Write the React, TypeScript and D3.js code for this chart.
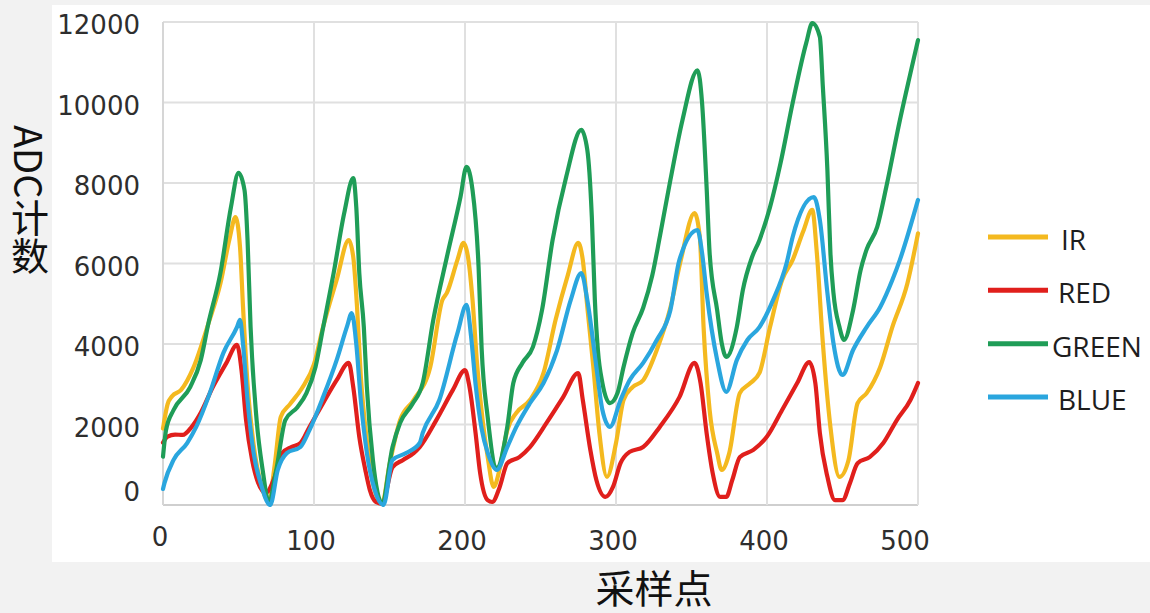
import { useEffect, useRef } from 'react';
import * as d3 from 'd3';

const X_TICKS = [0, 100, 200, 300, 400, 500];
const Y_TICKS = [0, 2000, 4000, 6000, 8000, 10000, 12000];
const LEGEND_NAMES = ['IR', 'RED', 'GREEN', 'BLUE'];
const LINE_COLORS = ['#f4b91f', '#e01f1c', '#1f9d57', '#2aa6de'];

// [sample index, ADC count]
const IR: [number, number][] = [
  [0, 1900], [3, 2500], [6, 2700], [12, 2860], [20, 3400], [30, 4500], [38, 5500], [44, 6600], [48, 7150],
  [51, 6410], [53, 4920], [56, 3000], [60, 1500], [65, 500], [70, 100], [74, 1000], [78, 2190], [84, 2500],
  [92, 2900], [100, 3500], [106, 4420], [115, 5590], [123, 6580], [126, 6160], [128.5, 4920], [131, 3200],
  [135, 1600], [140, 400], [145, 30], [150, 1000], [157, 2110], [166, 2610], [177, 3430], [185, 5090],
  [188, 5270], [195, 6090], [199, 6510], [202, 6160], [205, 5090], [208, 3500], [212, 2000], [215, 1200],
  [219, 450], [223, 900], [228, 1860], [234, 2290], [243, 2610], [252, 3280], [260, 4600], [268, 5700],
  [275, 6510], [278, 6090], [281, 4920], [285, 3430], [289, 1790], [294, 700], [300, 1540], [305, 2610],
  [311, 2930], [318, 3100], [327, 3850], [336, 4900], [343, 6100], [352, 7250], [355.5, 6660], [358, 4420],
  [362, 2360], [367, 1290], [370, 870], [375, 1290], [382, 2780], [389, 3030], [395, 3280], [402, 4420],
  [410, 5590], [417, 6090], [424, 6800], [430, 7330], [433, 6260], [437, 4020], [442, 1940], [448, 700],
  [454, 1120], [460, 2530], [466, 2780], [475, 3430], [483, 4420], [493, 5510], [500, 6750],
];

const RED: [number, number][] = [
  [0, 1550], [3, 1700], [8, 1750], [13, 1740], [19, 1940], [25, 2290], [33, 2930], [42, 3530], [49, 3980],
  [52, 3350], [55, 2110], [59, 1120], [63, 550], [68, 300], [74, 700], [79, 1290], [85, 1440], [91, 1540],
  [97, 1940], [106, 2530], [115, 3100], [123, 3530], [126, 2930], [130, 1690], [134, 870], [137, 370],
  [141, 75], [145, 30], [152, 940], [159, 1120], [166, 1290], [170, 1440], [181, 2110], [192, 2860],
  [200, 3350], [203, 2930], [207, 1790], [210, 800], [215, 120], [218, 75], [223, 450], [228, 1040],
  [236, 1190], [243, 1440], [254, 2040], [265, 2680], [275, 3280], [278, 2610], [283, 1370], [287, 620],
  [293, 200], [298, 450], [303, 1040], [309, 1320], [318, 1440], [329, 1940], [342, 2680], [352, 3530],
  [356, 3030], [360, 1790], [364, 800], [369, 200], [373, 200], [377, 620], [382, 1190], [391, 1370],
  [400, 1700], [410, 2360], [420, 3030], [428, 3550], [432, 3030], [435, 1790], [440, 700], [445, 120],
  [450, 120], [455, 550], [460, 1040], [468, 1190], [477, 1540], [486, 2110], [495, 2610], [500, 3030],
];

const GREEN: [number, number][] = [
  [0, 1200], [2, 1860], [7, 2360], [18, 2930], [25, 3600], [30, 4500], [38, 5760], [45, 7400], [50, 8250],
  [54, 7820], [56, 6580], [58, 4420], [62, 2110], [66, 870], [70, 80], [75, 870], [81, 2110], [89, 2430],
  [95, 2780], [101, 3430], [106, 4400], [113, 5760], [120, 7250], [126, 8120], [128, 7400], [130, 5760],
  [133, 4420], [135, 2930], [139, 1120], [145, 50], [152, 1440], [157, 2040], [165, 2500], [172, 3030],
  [179, 4600], [188, 6160], [197, 7650], [201, 8400], [205, 7820], [209, 5910], [211, 3900], [215, 2190],
  [221, 920], [228, 1940], [232, 3030], [238, 3530], [245, 3930], [251, 4840], [258, 6580], [267, 8150],
  [277, 9320], [281, 8820], [284, 7150], [286, 5090], [288, 3850], [291, 3030], [296, 2530], [301, 2780],
  [305, 3430], [311, 4270], [318, 4900], [324, 5700], [329, 6660], [336, 8070], [344, 9560], [354, 10800],
  [357, 9990], [360, 7900], [362, 6260], [367, 4840], [370, 4020], [373, 3680], [380, 4420], [384, 5340],
  [390, 6150], [395, 6580], [402, 7400], [409, 8500], [417, 9990], [426, 11480], [430, 11970], [435, 11630],
  [437, 10380], [440, 8320], [442, 6260], [444, 5270], [448, 4420], [451, 4100], [457, 4840], [462, 5840],
  [466, 6350], [473, 6910], [479, 7900], [488, 9560], [495, 10730], [500, 11550],
];

const BLUE: [number, number][] = [
  [0, 400], [1, 550], [7, 1120], [16, 1540], [22, 1940], [31, 2780], [40, 3780], [49, 4420], [51, 4600],
  [53, 4000], [56, 2600], [60, 1300], [65, 500], [71, 0], [76, 870], [82, 1290], [91, 1440], [97, 1860],
  [106, 2680], [115, 3600], [122, 4450], [125, 4770], [128, 4000], [131, 2600], [135, 1300], [140, 400],
  [146, 0], [152, 1120], [161, 1290], [170, 1540], [172, 1790], [183, 2610], [195, 4270], [201, 4970],
  [204, 4200], [207, 3000], [211, 1900], [215, 1300], [221, 870], [228, 1440], [234, 1940], [243, 2530],
  [252, 3030], [261, 3850], [270, 5090], [277, 5760], [281, 5090], [287, 3430], [291, 2360], [296, 1940],
  [303, 2610], [309, 3100], [318, 3530], [327, 4100], [336, 4840], [342, 6090], [354, 6830], [357, 6260],
  [360, 5270], [367, 3600], [373, 2810], [380, 3600], [387, 4100], [395, 4420], [404, 5090], [413, 6010],
  [417, 6660], [431, 7650], [435, 7080], [440, 5270], [444, 4020], [450, 3230], [457, 3850], [466, 4420],
  [475, 4920], [483, 5590], [488, 6090], [500, 7580],
];

const SERIES_DATA = [IR, RED, GREEN, BLUE];

export default function App() {
  const svgRef = useRef<SVGSVGElement>(null);

  useEffect(() => {
    if (!svgRef.current) return;
    const width = 1150;
    const height = 613;
    const margin = { top: 22, left: 163 };
    const innerWidth = 755;
    const innerHeight = 483;

    const svg = d3.select(svgRef.current);
    svg.selectAll('*').remove();

    // page background + white panel
    svg.append('rect').attr('width', width).attr('height', height).attr('fill', '#f2f2f2');
    svg.append('rect').attr('x', 52).attr('y', 5).attr('width', width - 52).attr('height', 557).attr('fill', '#ffffff');

    const x = d3.scaleLinear().domain([0, 500]).range([0, innerWidth]);
    const y = d3.scaleLinear().domain([0, 12000]).range([innerHeight, 0]);

    const g = svg.append('g').attr('transform', `translate(${margin.left},${margin.top})`);

    g.append('defs').append('clipPath').attr('id', 'plot-clip')
      .append('rect').attr('x', -4).attr('y', -4).attr('width', innerWidth + 8).attr('height', innerHeight + 6);

    // grid
    g.append('g')
      .selectAll('line').data(Y_TICKS).join('line')
      .attr('x1', 0).attr('x2', innerWidth)
      .attr('y1', d => y(d)).attr('y2', d => y(d))
      .attr('stroke', d => d === 0 ? '#cfcfcf' : '#e0e0e0').attr('stroke-width', 2);
    g.append('g')
      .selectAll('line').data(X_TICKS).join('line')
      .attr('y1', 0).attr('y2', innerHeight)
      .attr('x1', d => x(d)).attr('x2', d => x(d))
      .attr('stroke', d => d === 0 ? '#d6d6d6' : '#e0e0e0').attr('stroke-width', 2);

    const tickFont = '"DejaVu Sans", sans-serif';

    g.append('g')
      .selectAll('text').data(Y_TICKS).join('text')
      .attr('x', -23)
      .attr('y', d => d === 0 ? y(d) - 13 : y(d) + 3)
      .attr('text-anchor', 'end').attr('dominant-baseline', 'central')
      .attr('font-family', tickFont).attr('font-size', 26).attr('fill', '#2e2e2e')
      .text(d => String(d));

    g.append('g')
      .selectAll('text').data(X_TICKS).join('text')
      .attr('x', d => d === 500 ? x(d) - 13 : x(d) - 3)
      .attr('y', d => d === 0 ? innerHeight + 32 : innerHeight + 36)
      .attr('text-anchor', 'middle').attr('dominant-baseline', 'central')
      .attr('font-family', tickFont).attr('font-size', 26).attr('fill', '#2e2e2e')
      .text(d => String(d));

    const line = d3.line<[number, number]>()
      .x(d => x(d[0]))
      .y(d => y(d[1]))
      .curve(d3.curveMonotoneX);

    const lines = g.append('g').attr('clip-path', 'url(#plot-clip)');
    SERIES_DATA.forEach((data, i) => {
      lines.append('path')
        .datum(data)
        .attr('d', line)
        .attr('fill', 'none')
        .attr('stroke', LINE_COLORS[i])
        .attr('stroke-width', 4.2)
        .attr('stroke-linejoin', 'round')
        .attr('stroke-linecap', 'round');
    });

    // legend
    const legendY = d3.scalePoint<string>().domain(LEGEND_NAMES).range([237, 397]);
    const legend = svg.append('g');
    LEGEND_NAMES.forEach((name, i) => {
      legend.append('line')
        .attr('x1', 988).attr('x2', 1048)
        .attr('y1', legendY(name)!).attr('y2', legendY(name)!)
        .attr('stroke', LINE_COLORS[i]).attr('stroke-width', 5);
      legend.append('text')
        .attr('x', name === 'GREEN' ? 1052 : name === 'IR' ? 1061 : 1058)
        .attr('y', legendY(name)! + 2)
        .attr('dominant-baseline', 'central')
        .attr('font-family', '"Open Sans", sans-serif').attr('font-size', 28).attr('fill', '#1e1e1e')
        .text(name);
    });

    // axis titles
    svg.append('text')
      .attr('x', 30).attr('y', 125)
      .attr('writing-mode', 'vertical-rl')
      .attr('font-family', '"Noto Sans CJK SC", sans-serif').attr('font-size', 38).attr('fill', '#111')
      .text('ADC计数');

    svg.append('text')
      .attr('x', 654).attr('y', 603)
      .attr('text-anchor', 'middle')
      .attr('font-family', '"Noto Sans CJK SC", sans-serif').attr('font-size', 39).attr('fill', '#111')
      .text('采样点');
  }, []);

  return (
    <svg
      ref={svgRef}
      width={1150}
      height={613}
      style={{ position: 'absolute', left: 0, top: 0, display: 'block' }}
    />
  );
}
